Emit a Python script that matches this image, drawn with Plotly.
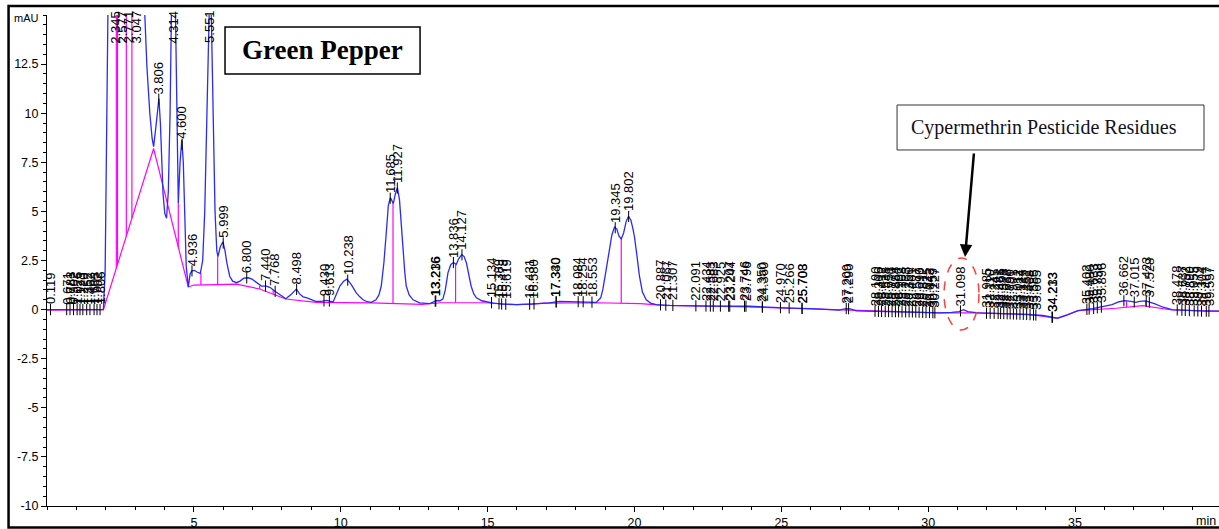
import numpy as np
import plotly.graph_objects as go

# ---- signal (blue trace): time (min), mAU ----
sig_t = [0.0, 0.5, 1.0, 1.5, 1.92, 1.98, 2.03, 2.08, 2.2, 2.6, 3.0, 3.25, 3.33, 3.40, 3.50, 3.58, 3.63,
         3.70, 3.76, 3.81, 3.86, 3.90, 3.95, 4.01, 4.07, 4.13, 4.19, 4.24, 4.31, 4.37, 4.42, 4.47,
         4.53, 4.59, 4.64, 4.69, 4.74, 4.81, 4.87, 4.93, 5.02, 5.12, 5.22, 5.30, 5.37, 5.43, 5.49,
         5.55, 5.60, 5.66, 5.72, 5.78, 5.82, 5.90, 5.99, 6.06, 6.12, 6.22, 6.32, 6.45, 6.57, 6.70,
         6.85, 6.98, 7.10, 7.30, 7.47, 7.60, 7.75, 7.93, 8.13, 8.30, 8.49, 8.60, 8.72, 8.85, 9.00,
         9.15, 9.35, 9.51, 9.74, 9.86, 9.97, 10.10, 10.21, 10.36, 10.45, 10.53, 10.65, 10.76, 10.90,
         11.04, 11.20, 11.30, 11.38, 11.47, 11.55, 11.62, 11.69, 11.75, 11.79, 11.86, 11.93, 12.00,
         12.06, 12.12, 12.18, 12.23, 12.33, 12.46, 12.69, 13.03, 13.15, 13.25, 13.38, 13.48, 13.56,
         13.65, 13.75, 13.84, 13.93, 14.02, 14.12, 14.20, 14.28, 14.36, 14.44, 14.53, 14.62, 14.80,
         14.96, 15.20, 15.50, 15.98, 16.50, 17.10, 17.45, 17.90, 18.30, 18.70, 18.85, 18.92, 19.00,
         19.08, 19.15, 19.23, 19.32, 19.40, 19.47, 19.55, 19.63, 19.72, 19.80, 19.88, 19.95, 20.00,
         20.08, 20.17, 20.27, 20.40, 20.55, 20.74, 21.20, 21.64, 22.50, 23.91, 24.50, 25.30, 26.00,
         26.97, 27.20, 27.35, 27.55, 28.10, 28.50, 29.50, 30.37, 30.80, 31.05, 31.20, 31.35, 31.70,
         32.50, 33.40, 33.90, 34.20, 34.40, 34.70, 35.10, 35.60, 36.00, 36.26, 36.50, 36.70, 36.90,
         37.06, 37.20, 37.40, 37.70, 38.00, 38.30, 38.80, 39.40, 39.90]
sig_v = [0.0, 0.0, 0.0, 0.0, 0.0, 2.0, 10.0, 16.0, 30.0, 40.0, 30.0, 18.0, 15.0, 12.4, 10.0, 8.7, 8.3,
         9.2, 10.3, 10.75, 9.5, 7.5, 5.9, 4.9, 4.65, 6.0, 10.0, 15.5, 20.0, 15.5, 9.0, 5.4,
         7.5, 8.65, 7.5, 4.5, 2.2, 1.15, 1.8, 1.97, 2.0, 1.9, 1.85, 2.5, 5.0, 9.0, 14.5,
         17.0, 14.5, 9.0, 5.0, 3.0, 2.7, 3.2, 3.45, 3.0, 2.4, 1.7, 1.45, 1.37, 1.45, 1.6,
         1.62, 1.55, 1.42, 1.2, 1.2, 1.12, 0.95, 0.76, 0.55, 0.75, 1.05, 0.8, 0.65, 0.6, 0.5,
         0.42, 0.42, 0.47, 0.39, 0.8, 1.2, 1.45, 1.55, 1.27, 1.05, 0.85, 0.65, 0.5, 0.4,
         0.37, 0.5, 0.75, 1.2, 2.4, 3.9, 5.3, 5.7, 5.55, 5.4, 5.9, 6.2, 5.6,
         4.3, 3.05, 1.9, 1.2, 0.75, 0.5, 0.34, 0.3, 0.38, 0.45, 0.45, 0.55, 1.0,
         1.87, 2.3, 2.4, 2.3, 2.6, 2.8, 2.7, 2.37, 1.75, 1.19, 0.8, 0.6, 0.45,
         0.4, 0.33, 0.28, 0.25, 0.28, 0.34, 0.42, 0.4, 0.4, 0.37, 0.6, 1.0, 1.7,
         2.4, 3.05, 3.8, 4.2, 4.1, 3.75, 3.6, 3.9, 4.5, 4.75, 4.55, 4.1, 3.7,
         2.8, 1.7, 0.9, 0.5, 0.33, 0.25, 0.22, 0.2, 0.18, 0.17, 0.12, 0.08, 0.05,
         -0.03, 0.05, 0.04, -0.06, -0.08, -0.1, -0.12, -0.17, -0.14, -0.1, 0.0, -0.1, -0.17,
         -0.2, -0.25, -0.3, -0.38, -0.44, -0.3, -0.05, 0.05, 0.15, 0.25, 0.4, 0.46, 0.42,
         0.37, 0.42, 0.44, 0.3, 0.12, 0.0, -0.05, -0.08, -0.08]

# ---- integration baseline (magenta) ----
base_t = [0.0, 1.92, 3.63, 4.81, 5.0, 6.45, 7.24, 8.13, 9.17, 11.04, 12.78, 13.4, 14.9, 15.5, 16.0,
          17.0, 18.7, 20.2, 21.0, 23.5, 25.0, 26.97, 28.1, 30.37, 31.7, 33.4, 34.4, 35.1, 36.4,
          37.3, 38.3, 39.9]
base_v = [-0.03, 0.0, 8.2, 1.15, 1.25, 1.3, 1.05, 0.54, 0.37, 0.34, 0.27, 0.35, 0.35, 0.28, 0.25,
          0.33, 0.35, 0.3, 0.22, 0.15, 0.08, -0.03, -0.08, -0.17, -0.17, -0.25, -0.44, -0.05, 0.07,
          0.2, -0.02, -0.08]

# ---- peak drop lines: time and top value ----
drop_t = [2.36, 2.40, 2.70, 2.89, 4.47, 5.24, 5.81, 7.24, 7.70, 11.78, 13.91, 19.55, 36.75, 37.40]
drop_top = [30, 30, 30, 30, 5.4, 1.85, 2.7, 1.2, 1.0, 5.43, 2.3, 3.6, 0.45, 0.44]

# ---- peak retention-time labels ----
peak_labels = ["0.119", "0.671", "0.783", "0.902", "1.026", "1.123", "1.220", "1.352", "1.462",
               "1.603", "1.702", "1.806", "2.345", "2.577", "2.771", "3.047", "3.806", "4.314",
               "4.600", "4.936", "5.551", "5.999", "6.800", "7.440", "7.768", "8.498", "9.430",
               "9.613", "10.238", "11.685", "11.927", "13.216", "13.236", "13.836", "14.127",
               "15.134", "15.389", "15.479", "15.619", "16.431", "16.580", "17.330", "17.340",
               "18.084", "18.254", "18.553", "19.345", "19.802", "20.887", "21.067", "21.307",
               "22.091", "22.434", "22.583", "22.683", "22.925", "23.207", "23.244", "23.746",
               "23.796", "24.350", "24.360", "24.970", "25.266", "25.703", "25.708", "27.209",
               "27.290", "28.190", "28.306", "28.412", "28.538", "28.651", "28.770", "28.884",
               "28.992", "29.108", "29.233", "29.350", "29.461", "29.577", "29.690", "29.812",
               "29.925", "30.043", "30.159", "30.227", "31.098", "31.985", "32.110", "32.245",
               "32.381", "32.466", "32.573", "32.688", "32.790", "32.901", "33.012", "33.124",
               "33.237", "33.352", "33.468", "33.585", "33.665", "34.213", "34.233", "35.402",
               "35.480", "35.633", "35.758", "35.896", "36.662", "37.015", "37.423", "37.528",
               "38.478", "38.637", "38.752", "38.890", "39.055", "39.179", "39.304", "39.467",
               "39.557"]

x_ticks = [5, 10, 15, 20, 25, 30, 35]
y_ticks = [-10, -7.5, -5, -2.5, 0, 2.5, 5, 7.5, 10, 12.5]
y_tick_text = ["-10", "-7.5", "-5", "-2.5", "0", "2.5", "5", "7.5", "10", "12.5"]

FONT = "Liberation Sans, Arial, sans-serif"
SERIF = "Liberation Serif, Times New Roman, serif"

fig = go.Figure()

fig.add_trace(go.Scatter(x=base_t, y=base_v, mode="lines",
                         line=dict(color="#ff00ff", width=1.2), hoverinfo="skip"))

dx, dy = [], []
for t, top in zip(drop_t, drop_top):
    dx += [t, t, None]
    dy += [top, float(np.interp(t, base_t, base_v)), None]
fig.add_trace(go.Scatter(x=dx, y=dy, mode="lines",
                         line=dict(color="#ff00ff", width=1.2), hoverinfo="skip"))

fig.add_trace(go.Scatter(x=sig_t, y=sig_v, mode="lines",
                         line=dict(color="#2a2aff", width=1.3), hoverinfo="skip"))

lt = [float(s) for s in peak_labels]
lv = [float(np.interp(t, sig_t, sig_v)) for t in lt]
fig.add_trace(go.Scatter(x=lt, y=lv, mode="markers",
                         marker=dict(symbol="line-ns-open", size=8, color="black",
                                     line=dict(color="black", width=1)),
                         hoverinfo="skip"))

annotations = []
for s, t, v in zip(peak_labels, lt, lv):
    annotations.append(dict(x=t, y=min(v, 13.3), xref="x", yref="y", text=s,
                            textangle=-90, showarrow=False, xanchor="center",
                            yanchor="bottom", yshift=4, borderpad=0,
                            font=dict(family=FONT, size=13, color="black")))

# axis captions
annotations.append(dict(x=-0.0179, y=0.9939, xref="paper", yref="paper", text="mAU",
                        showarrow=False, xanchor="center", yanchor="middle",
                        font=dict(family=FONT, size=11, color="black")))
annotations.append(dict(x=0.9995, y=-0.0305, xref="paper", yref="paper", text="min",
                        showarrow=False, xanchor="right", yanchor="middle",
                        font=dict(family=FONT, size=12.5, color="black")))

# text boxes
annotations.append(dict(x=0.2351, y=0.9277, xref="paper", yref="paper",
                        text="<b>Green Pepper</b>", showarrow=False,
                        xanchor="center", yanchor="middle",
                        font=dict(family=SERIF, size=27, color="black")))
annotations.append(dict(x=0.8507, y=0.7709, xref="paper", yref="paper",
                        text="Cypermethrin Pesticide Residues", showarrow=False,
                        xanchor="center", yanchor="middle",
                        font=dict(family=SERIF, size=20, color="#111122")))
# arrow
annotations.append(dict(x=0.7833, y=0.5071, xref="paper", yref="paper", text="",
                        showarrow=True, ax=9, ay=-105, arrowhead=2, arrowsize=1,
                        arrowwidth=2.5, arrowcolor="black"))

shapes = [
    dict(type="rect", xref="paper", yref="paper", x0=-0.0328, x1=1.02, y0=-0.0438, y1=1.0183,
         line=dict(color="black", width=2.5)),
    dict(type="rect", xref="paper", yref="paper", x0=0.1519, x1=0.3183, y0=0.8798, y1=0.9756,
         line=dict(color="black", width=1.5), fillcolor="white", layer="above"),
    dict(type="rect", xref="paper", yref="paper", x0=0.7253, x1=0.9872, y0=0.7251, y1=0.8167,
         line=dict(color="#333333", width=1), fillcolor="white", layer="above"),
    dict(type="circle", xref="paper", yref="paper", x0=0.7654, x1=0.7952, y0=0.3585, y1=0.5051,
         line=dict(color="#ff4040", width=1.5, dash="dash")),
]

fig.update_layout(
    width=1219, height=529,
    margin=dict(l=47, r=0, t=15, b=23, pad=0),
    paper_bgcolor="white", plot_bgcolor="white",
    showlegend=False,
    annotations=annotations, shapes=shapes,
    xaxis=dict(range=[0, 39.9], tickvals=x_ticks, ticktext=[str(v) for v in x_ticks],
               showgrid=False, zeroline=False, showline=True, linecolor="black", linewidth=1,
               ticks="outside", ticklen=5, tickcolor="black",
               minor=dict(dtick=1, tick0=0, ticks="outside", ticklen=3, tickcolor="black"),
               tickfont=dict(family=FONT, size=12.5, color="black")),
    yaxis=dict(range=[-10, 15], tickvals=y_ticks, ticktext=y_tick_text,
               showgrid=False, zeroline=False, showline=True, linecolor="black", linewidth=1,
               ticks="outside", ticklen=5, tickcolor="black",
               minor=dict(dtick=0.5, tick0=0, ticks="outside", ticklen=3, tickcolor="black"),
               tickfont=dict(family=FONT, size=12.5, color="black")),
)

fig.write_html("out.html", config={"displayModeBar": False})
